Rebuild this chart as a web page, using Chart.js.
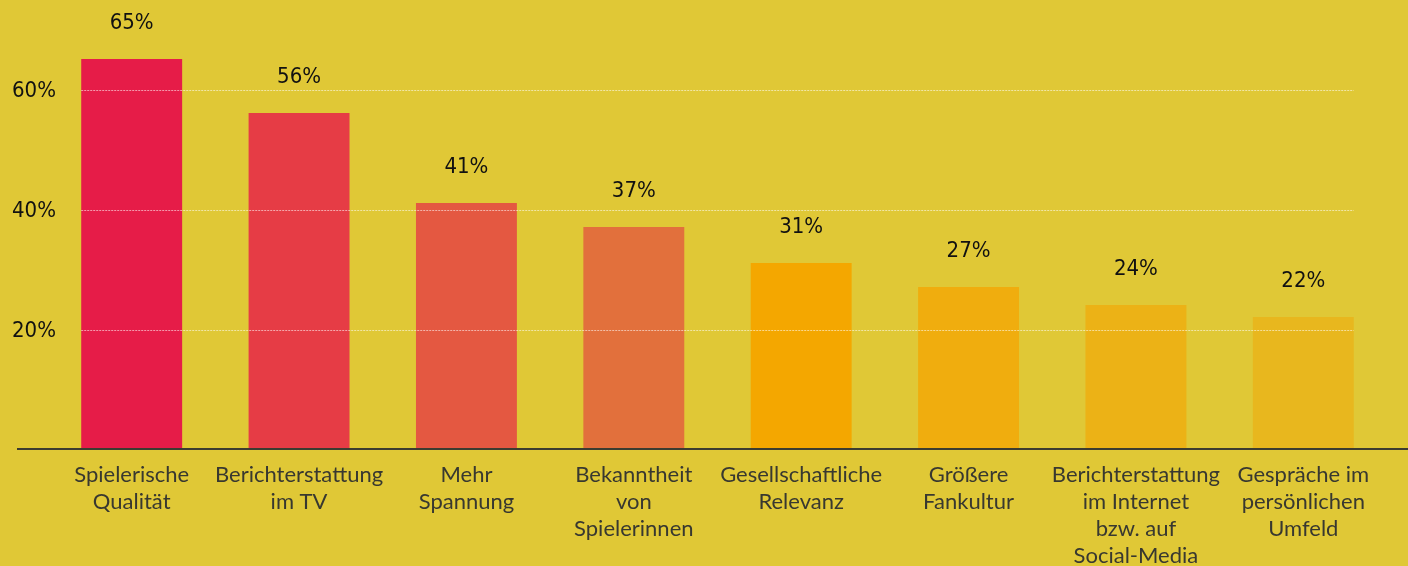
<!DOCTYPE html>
<html>
<head>
<meta charset="utf-8">
<script src="https://cdn.jsdelivr.net/npm/chart.js@4/dist/chart.umd.min.js"></script>
<style>
  html, body { margin: 0; padding: 0; background: #E0C836; }
  #wrap { width: 1408px; height: 566px; position: relative; }
</style>
</head>
<body>
<div id="wrap"><canvas id="barChart"></canvas></div>
<script>
// Gründe für gestiegenes Interesse (Anteil in %)
const categories = [
  ['Spielerische', 'Qualität'],
  ['Berichterstattung', 'im TV'],
  ['Mehr', 'Spannung'],
  ['Bekanntheit', 'von', 'Spielerinnen'],
  ['Gesellschaftliche', 'Relevanz'],
  ['Größere', 'Fankultur'],
  ['Berichterstattung', 'im Internet', 'bzw. auf', 'Social-Media'],
  ['Gespräche im', 'persönlichen', 'Umfeld']
];
const values = [65, 56, 41, 37, 31, 27, 24, 22];
const barColors = ['#E61C48', '#E63C45', '#E45841', '#E2703C', '#F4A700', '#F0AD0E', '#ECB216', '#E8B71E'];
const yTicks = [20, 40, 60];

const labelFont = 'Lato, "Open Sans", sans-serif';
const numberFont = '"Liberation Sans Narrow", "DejaVu Sans Condensed", Lato, sans-serif';

// Werte über den Balken, Gitterlinien über den Balken, Grundlinie
const overlay = {
  id: 'overlay',
  afterDatasetsDraw(chart) {
    const ctx = chart.ctx;
    const y = chart.scales.y;
    const bars = chart.getDatasetMeta(0).data;
    const first = bars[0], last = bars[bars.length - 1];
    const x0 = first.x - first.width / 2;
    const x1 = last.x + last.width / 2;

    ctx.save();
    ctx.strokeStyle = 'rgba(255,255,255,0.55)';
    ctx.lineWidth = 1;
    ctx.setLineDash([2, 1]);
    yTicks.forEach(t => {
      const py = Math.round(y.getPixelForValue(t)) + 1.5;
      ctx.beginPath();
      ctx.moveTo(x0, py);
      ctx.lineTo(x1, py);
      ctx.stroke();
    });
    ctx.setLineDash([]);

    const base = y.getPixelForValue(0);
    ctx.strokeStyle = '#3c3c30';
    ctx.lineWidth = 2;
    ctx.beginPath();
    ctx.moveTo(17, base);
    ctx.lineTo(chart.width, base);
    ctx.stroke();

    ctx.fillStyle = '#111';
    ctx.font = '22px ' + numberFont;
    ctx.textAlign = 'center';
    ctx.textBaseline = 'alphabetic';
    bars.forEach((bar, i) => {
      ctx.fillText(values[i] + '%', bar.x, bar.y - 30);
    });
    ctx.restore();
  }
};

const ctx = document.getElementById('barChart').getContext('2d');
new Chart(ctx, {
  type: 'bar',
  data: {
    labels: categories,
    datasets: [{
      data: values,
      backgroundColor: barColors,
      borderWidth: 0,
      categoryPercentage: 1,
      barPercentage: 0.603
    }]
  },
  options: {
    responsive: true,
    maintainAspectRatio: false,
    animation: false,
    layout: { padding: { left: 12, top: 29, right: 21, bottom: 0 } },
    plugins: {
      legend: { display: false },
      tooltip: { enabled: false }
    },
    scales: {
      x: {
        grid: { display: false, drawTicks: false },
        border: { display: false },
        ticks: {
          color: '#383830',
          font: { family: labelFont, size: 22, lineHeight: 1.227 },
          padding: 12,
          maxRotation: 0,
          autoSkip: false
        },
        afterFit(scale) { scale.height = 117; }
      },
      y: {
        min: 0,
        max: 70,
        grid: { display: false, drawTicks: false },
        border: { display: false },
        afterBuildTicks(scale) { scale.ticks = yTicks.map(v => ({ value: v })); },
        ticks: {
          color: '#111',
          font: { family: numberFont, size: 22 },
          mirror: true,          // no clipping of the labels at the axis edge
          crossAlign: 'near',
          padding: -36,
          labelOffset: 2,
          callback: v => v + '%'
        },
        afterFit(scale) { scale.width = 36; }
      }
    }
  },
  plugins: [overlay]
});
</script>
</body>
</html>
